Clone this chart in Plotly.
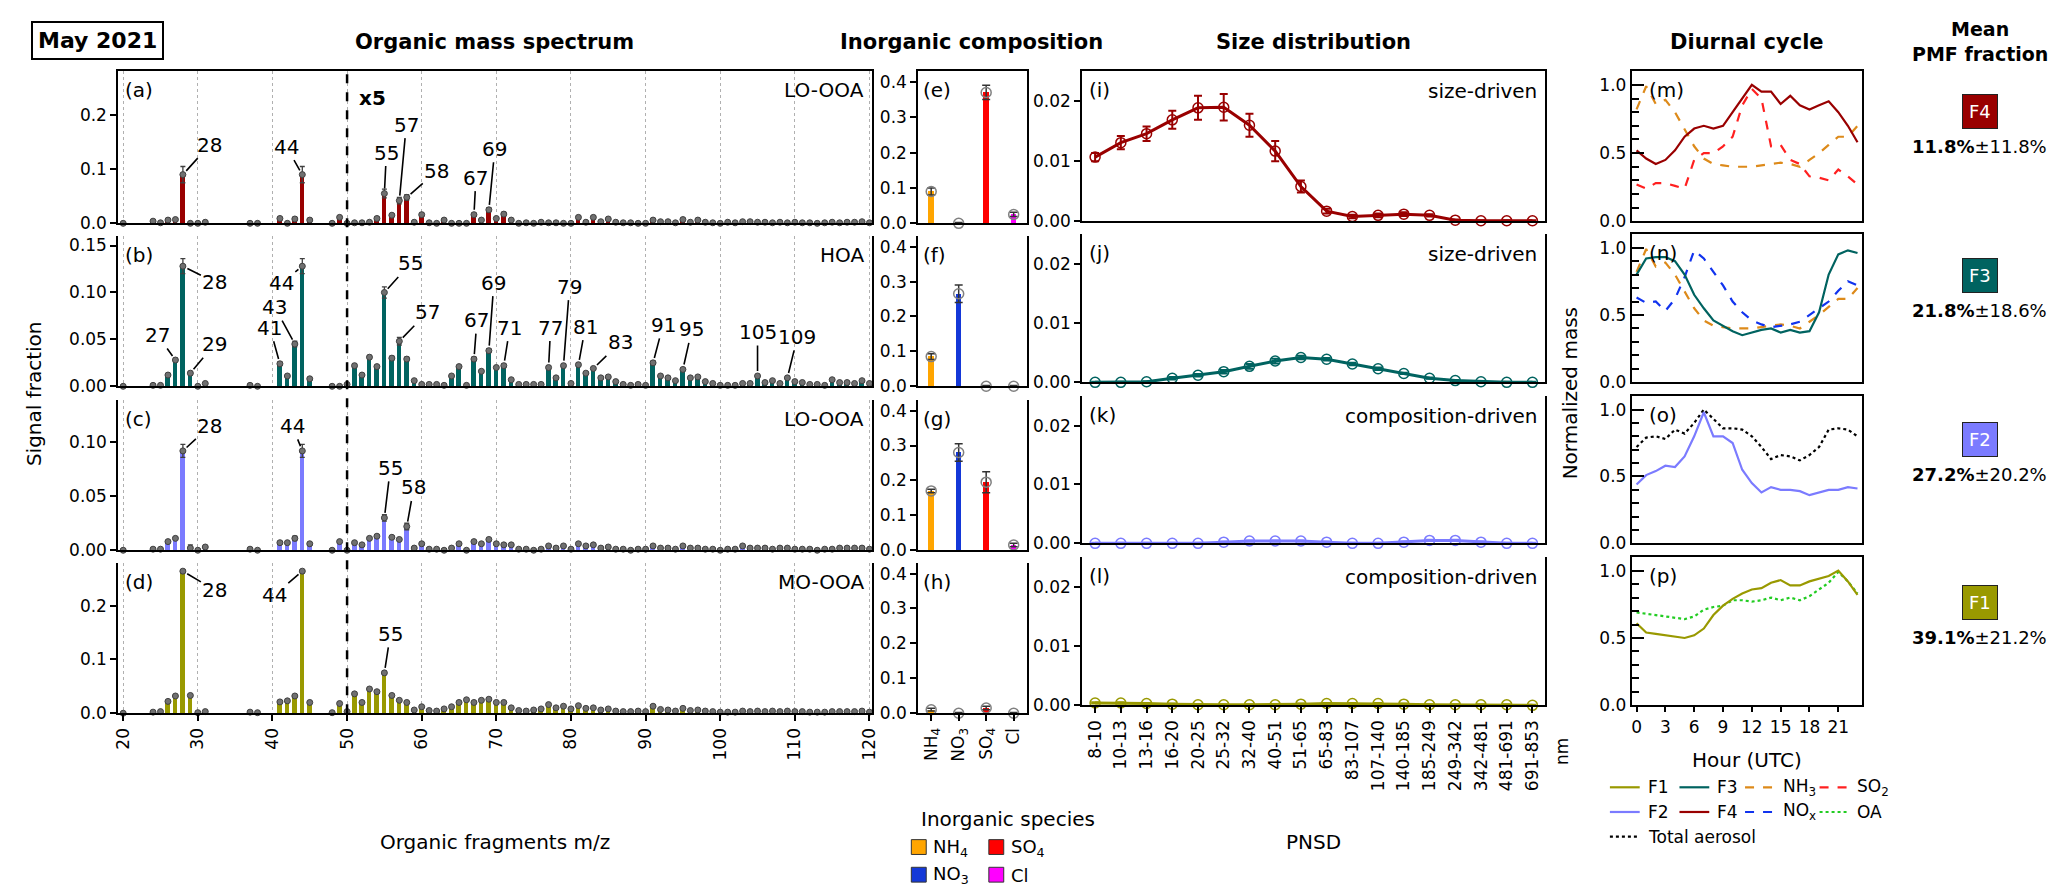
import plotly.graph_objects as go

W, H = 2067, 893
FONT = 'DejaVu Sans'

# ---------------- data ----------------
MZ = [20, 24, 25, 26, 27, 28, 29, 30, 31, 37, 38, 41, 42, 43, 44, 45, 48, 49,
      50, 51, 52, 53, 54, 55, 56, 57, 58, 59,
      60, 61, 62, 63, 64, 65, 66, 67, 68, 69,
      70, 71, 72, 73, 74, 75, 76, 77, 78, 79,
      80, 81, 82, 83, 84, 85, 86, 87, 88, 89,
      90, 91, 92, 93, 94, 95, 96, 97, 98, 99,
      100, 101, 102, 103, 104, 105, 106, 107, 108, 109,
      110, 111, 112, 113, 114, 115, 116, 117, 118, 119, 120]

# displayed signal fraction (m/z >= 50 already multiplied by 5)
SPEC_F4 = [0.0, 0.004, 0.001, 0.006, 0.007, 0.090, 0.0, 0.0, 0.002,
           0.0, 0.0, 0.009, 0.0, 0.008, 0.090, 0.006, 0.0, 0.011,
           0.0, 0.001, 0.001, 0.002, 0.009, 0.055, 0.015, 0.042, 0.048, 0.002,
           0.016, 0.001, 0.0, 0.006, 0.0, 0.0, 0.0, 0.016, 0.006, 0.025,
           0.009, 0.017, 0.006, 0.0, 0.001, 0.0, 0.002, 0.001, 0.001, 0.0,
           0.0, 0.011, 0.002, 0.011, 0.003, 0.008, 0.002, 0.001, 0.001, 0.0,
           0.0, 0.006, 0.003, 0.003, 0.001, 0.007, 0.002, 0.006, 0.002, 0.001,
           0.0, 0.002, 0.001, 0.003, 0.003, 0.002, 0.002, 0.001, 0.002, 0.001,
           0.002, 0.001, 0.001, 0.0, 0.001, 0.002, 0.001, 0.002, 0.002, 0.003, 0.001]
ERR_F4 = [0.001, 0.002, 0.001, 0.002, 0.002, 0.015, 0.001, 0.001, 0.001,
          0.001, 0.001, 0.002, 0.001, 0.003, 0.015, 0.002, 0.001, 0.002,
          0.001, 0.001, 0.001, 0.001, 0.003, 0.008, 0.003, 0.006, 0.005, 0.001,
          0.003, 0.001, 0.001, 0.002, 0.001, 0.001, 0.001, 0.003, 0.002, 0.004,
          0.002, 0.003, 0.002, 0.001, 0.001, 0.001, 0.001, 0.001, 0.001, 0.001,
          0.001, 0.003, 0.001, 0.003, 0.001, 0.002, 0.001, 0.001, 0.001, 0.001,
          0.001, 0.002, 0.001, 0.001, 0.001, 0.002, 0.001, 0.002, 0.001, 0.001,
          0.001, 0.001, 0.001, 0.001, 0.001, 0.001, 0.001, 0.001, 0.001, 0.001,
          0.001, 0.001, 0.001, 0.001, 0.001, 0.001, 0.001, 0.001, 0.001, 0.001, 0.001]

SPEC_F3 = [0.0, 0.001, 0.001, 0.012, 0.028, 0.128, 0.014, 0.0, 0.003,
           0.001, 0.0, 0.024, 0.011, 0.045, 0.128, 0.008, 0.0, 0.0,
           0.002, 0.022, 0.012, 0.031, 0.021, 0.100, 0.030, 0.048, 0.029, 0.006,
           0.002, 0.002, 0.002, 0.001, 0.011, 0.021, 0.001, 0.029, 0.016, 0.038,
           0.020, 0.022, 0.007, 0.002, 0.002, 0.002, 0.002, 0.020, 0.009, 0.022,
           0.003, 0.023, 0.014, 0.019, 0.009, 0.010, 0.005, 0.002, 0.001, 0.002,
           0.001, 0.025, 0.011, 0.009, 0.006, 0.018, 0.009, 0.010, 0.005, 0.003,
           0.001, 0.001, 0.001, 0.003, 0.003, 0.011, 0.004, 0.006, 0.003, 0.009,
           0.005, 0.004, 0.002, 0.002, 0.001, 0.007, 0.004, 0.004, 0.003, 0.006, 0.003]
ERR_F3 = [0.001, 0.001, 0.001, 0.001, 0.002, 0.008, 0.002, 0.001, 0.001,
          0.001, 0.001, 0.002, 0.001, 0.003, 0.008, 0.001, 0.001, 0.001,
          0.001, 0.002, 0.001, 0.002, 0.001, 0.006, 0.002, 0.004, 0.002, 0.001,
          0.001, 0.001, 0.001, 0.001, 0.001, 0.001, 0.001, 0.002, 0.001, 0.002,
          0.001, 0.002, 0.001, 0.001, 0.001, 0.001, 0.001, 0.002, 0.001, 0.002,
          0.001, 0.002, 0.001, 0.001, 0.001, 0.001, 0.001, 0.001, 0.001, 0.001,
          0.001, 0.002, 0.001, 0.001, 0.001, 0.001, 0.001, 0.001, 0.001, 0.001,
          0.001, 0.001, 0.001, 0.001, 0.001, 0.001, 0.001, 0.001, 0.001, 0.001,
          0.001, 0.001, 0.001, 0.001, 0.001, 0.001, 0.001, 0.001, 0.001, 0.001, 0.001]

SPEC_F2 = [0.0, 0.001, 0.001, 0.008, 0.011, 0.092, 0.002, 0.0, 0.003,
           0.001, 0.0, 0.007, 0.007, 0.011, 0.092, 0.006, 0.0, 0.008,
           0.0, 0.007, 0.005, 0.011, 0.013, 0.030, 0.012, 0.010, 0.022, 0.002,
           0.006, 0.001, 0.001, 0.0, 0.002, 0.006, 0.0, 0.008, 0.006, 0.010,
           0.006, 0.005, 0.005, 0.001, 0.001, 0.0, 0.001, 0.004, 0.002, 0.004,
           0.001, 0.006, 0.004, 0.005, 0.002, 0.003, 0.001, 0.001, 0.0, 0.001,
           0.001, 0.004, 0.002, 0.002, 0.001, 0.004, 0.002, 0.002, 0.001, 0.001,
           0.0, 0.001, 0.001, 0.004, 0.002, 0.002, 0.002, 0.001, 0.002, 0.002,
           0.001, 0.001, 0.001, 0.0, 0.001, 0.001, 0.002, 0.002, 0.002, 0.002, 0.001]
ERR_F2 = [0.001, 0.001, 0.001, 0.001, 0.001, 0.006, 0.003, 0.001, 0.001,
          0.001, 0.001, 0.001, 0.001, 0.002, 0.006, 0.001, 0.001, 0.001,
          0.001, 0.001, 0.001, 0.001, 0.001, 0.003, 0.001, 0.001, 0.003, 0.001,
          0.001, 0.001, 0.001, 0.001, 0.001, 0.001, 0.001, 0.001, 0.001, 0.001,
          0.001, 0.001, 0.001, 0.001, 0.001, 0.001, 0.001, 0.001, 0.001, 0.001,
          0.001, 0.001, 0.001, 0.001, 0.001, 0.001, 0.001, 0.001, 0.001, 0.001,
          0.001, 0.001, 0.001, 0.001, 0.001, 0.001, 0.001, 0.001, 0.001, 0.001,
          0.001, 0.001, 0.001, 0.001, 0.001, 0.001, 0.001, 0.001, 0.001, 0.001,
          0.001, 0.001, 0.001, 0.001, 0.001, 0.001, 0.001, 0.001, 0.001, 0.001, 0.001]

SPEC_F1 = [0.0, 0.002, 0.003, 0.022, 0.032, 0.264, 0.033, 0.001, 0.003,
           0.002, 0.001, 0.021, 0.023, 0.032, 0.264, 0.020, 0.001, 0.018,
           0.003, 0.036, 0.020, 0.045, 0.040, 0.075, 0.033, 0.024, 0.020, 0.006,
           0.012, 0.005, 0.004, 0.008, 0.012, 0.020, 0.025, 0.020, 0.024, 0.026,
           0.020, 0.020, 0.010, 0.005, 0.004, 0.006, 0.008, 0.016, 0.010, 0.013,
           0.008, 0.014, 0.009, 0.010, 0.006, 0.008, 0.004, 0.003, 0.003, 0.004,
           0.003, 0.013, 0.007, 0.006, 0.004, 0.009, 0.005, 0.006, 0.004, 0.003,
           0.002, 0.002, 0.002, 0.004, 0.003, 0.004, 0.003, 0.004, 0.003, 0.004,
           0.003, 0.003, 0.002, 0.002, 0.002, 0.003, 0.003, 0.003, 0.003, 0.004, 0.002]
ERR_F1 = [0.001, 0.001, 0.001, 0.002, 0.002, 0.003, 0.002, 0.001, 0.001,
          0.001, 0.001, 0.002, 0.002, 0.002, 0.003, 0.002, 0.001, 0.002,
          0.001, 0.002, 0.001, 0.002, 0.002, 0.003, 0.002, 0.002, 0.001, 0.001,
          0.001, 0.001, 0.001, 0.001, 0.001, 0.001, 0.002, 0.001, 0.002, 0.002,
          0.001, 0.001, 0.001, 0.001, 0.001, 0.001, 0.001, 0.001, 0.001, 0.001,
          0.001, 0.001, 0.001, 0.001, 0.001, 0.001, 0.001, 0.001, 0.001, 0.001,
          0.001, 0.002, 0.001, 0.001, 0.001, 0.001, 0.001, 0.001, 0.001, 0.001,
          0.001, 0.001, 0.001, 0.001, 0.001, 0.001, 0.001, 0.001, 0.001, 0.001,
          0.001, 0.001, 0.001, 0.001, 0.001, 0.001, 0.001, 0.001, 0.001, 0.001, 0.001]

LABELS_F4 = [28, 44, 55, 57, 58, 67, 69]
LABELS_F3 = [27, 28, 29, 41, 43, 44, 55, 57, 67, 69, 71, 77, 79, 81, 83, 91, 95, 105, 109]
LABELS_F2 = [28, 44, 55, 58]
LABELS_F1 = [28, 44, 55]

INORG_SPECIES = ['NH<sub>4</sub>', 'NO<sub>3</sub>', 'SO<sub>4</sub>', 'Cl']
INORG_F4 = [0.09, 0.0, 0.37, 0.025]
INORG_F4_ERR = [0.01, 0.002, 0.02, 0.006]
INORG_F3 = [0.085, 0.265, 0.0, 0.0]
INORG_F3_ERR = [0.008, 0.025, 0.002, 0.002]
INORG_F2 = [0.17, 0.28, 0.195, 0.015]
INORG_F2_ERR = [0.005, 0.025, 0.03, 0.005]
INORG_F1 = [0.01, 0.0, 0.015, 0.0]
INORG_F1_ERR = [0.004, 0.002, 0.005, 0.002]

SIZE_BINS = ['8-10', '10-13', '13-16', '16-20', '20-25', '25-32', '32-40', '40-51', '51-65',
             '65-83', '83-107', '107-140', '140-185', '185-249', '249-342', '342-481',
             '481-691', '691-853']
PNSD_F4 = [0.0107, 0.0131, 0.0146, 0.0169, 0.0189, 0.0190, 0.0160, 0.0117, 0.0058,
           0.0017, 0.0008, 0.0010, 0.0012, 0.0010, 0.0002, 0.0001, 0.0001, 0.0001]
PNSD_F4_ERR = [0.0007, 0.0011, 0.0012, 0.0015, 0.0020, 0.0022, 0.0019, 0.0017, 0.0010,
               0.0004, 0.0003, 0.0003, 0.0003, 0.0002, 0.0001, 0.0001, 0.0001, 0.0001]
PNSD_F3 = [0.0, 0.0, 0.0001, 0.0007, 0.0012, 0.0018, 0.0027, 0.0036, 0.0042,
           0.0039, 0.0031, 0.0023, 0.0015, 0.0007, 0.0003, 0.0001, 0.0, 0.0]
PNSD_F3_ERR = [0.0001, 0.0001, 0.0001, 0.0002, 0.0002, 0.0003, 0.0004, 0.0004, 0.0003,
               0.0002, 0.0002, 0.0002, 0.0001, 0.0001, 0.0001, 0.0001, 0.0001, 0.0001]
PNSD_F2 = [0.0, 0.0, 0.0, 0.0, 0.0, 0.0002, 0.0004, 0.0004, 0.0004,
           0.0002, 0.0, 0.0, 0.0002, 0.0005, 0.0005, 0.0002, 0.0, 0.0]
PNSD_F2_ERR = [0.0001, 0.0001, 0.0001, 0.0001, 0.0001, 0.0001, 0.0001, 0.0001, 0.0001,
               0.0001, 0.0001, 0.0001, 0.0001, 0.0001, 0.0001, 0.0001, 0.0001, 0.0001]
PNSD_F1 = [0.0004, 0.0004, 0.0003, 0.0002, 0.0001, 0.0001, 0.0001, 0.0001, 0.0002,
           0.0003, 0.0003, 0.0003, 0.0002, 0.0001, 0.0001, 0.0001, 0.0001, 0.0]
PNSD_F1_ERR = [0.0001, 0.0001, 0.0001, 0.0001, 0.0001, 0.0001, 0.0001, 0.0001, 0.0001,
               0.0001, 0.0001, 0.0001, 0.0001, 0.0001, 0.0001, 0.0001, 0.0001, 0.0001]

HOURS = [0, 1, 2, 3, 4, 5, 6, 7, 8, 9, 10, 11, 12, 13, 14, 15, 16, 17, 18, 19, 20, 21, 22, 23]
DIUR_F4 = [0.52, 0.46, 0.42, 0.45, 0.52, 0.62, 0.68, 0.70, 0.68, 0.70, 0.80, 0.90,
           1.00, 0.95, 0.95, 0.86, 0.92, 0.85, 0.82, 0.85, 0.88, 0.80, 0.70, 0.58]
DIUR_F3 = [0.80, 0.92, 0.93, 0.93, 0.90, 0.80, 0.65, 0.55, 0.46, 0.42, 0.38, 0.35,
           0.37, 0.39, 0.40, 0.37, 0.39, 0.37, 0.38, 0.52, 0.80, 0.95, 0.98, 0.96]
DIUR_F2 = [0.44, 0.51, 0.54, 0.58, 0.57, 0.65, 0.80, 0.98, 0.80, 0.80, 0.75, 0.55,
           0.45, 0.38, 0.42, 0.40, 0.40, 0.39, 0.36, 0.38, 0.40, 0.40, 0.42, 0.41]
DIUR_F1 = [0.61, 0.54, 0.53, 0.52, 0.51, 0.50, 0.52, 0.57, 0.67, 0.74, 0.79, 0.83,
           0.86, 0.87, 0.91, 0.93, 0.89, 0.89, 0.92, 0.94, 0.96, 1.00, 0.92, 0.82]
DIUR_NH3 = [0.82, 0.99, 0.86, 0.89, 0.80, 0.68, 0.55, 0.46, 0.42, 0.41, 0.40, 0.40,
            0.40, 0.41, 0.42, 0.43, 0.42, 0.40, 0.45, 0.50, 0.56, 0.62, 0.62, 0.70]
DIUR_SO2 = [0.27, 0.24, 0.28, 0.28, 0.26, 0.24, 0.45, 0.50, 0.50, 0.55, 0.62, 0.85,
            0.97, 0.90, 0.55, 0.56, 0.45, 0.42, 0.33, 0.32, 0.30, 0.38, 0.33, 0.27]
DIUR_NOX = [0.63, 0.59, 0.60, 0.53, 0.62, 0.78, 0.98, 0.92, 0.82, 0.72, 0.60, 0.52,
            0.46, 0.43, 0.41, 0.42, 0.43, 0.45, 0.50, 0.55, 0.60, 0.68, 0.75, 0.72]
DIUR_TOTAL = [0.72, 0.79, 0.80, 0.78, 0.85, 0.82, 0.90, 1.00, 0.93, 0.86, 0.86, 0.85,
              0.80, 0.72, 0.63, 0.66, 0.65, 0.62, 0.66, 0.72, 0.85, 0.86, 0.85, 0.80]
DIUR_OA = [0.69, 0.68, 0.67, 0.66, 0.65, 0.64, 0.66, 0.71, 0.73, 0.74, 0.78, 0.78,
           0.77, 0.78, 0.80, 0.78, 0.80, 0.78, 0.81, 0.86, 0.91, 0.99, 0.92, 0.83]

FACTORS = ['F4', 'F3', 'F2', 'F1']
FACTOR_TYPE = ['LO-OOA', 'HOA', 'LO-OOA', 'MO-OOA']
SIZE_TYPE = ['size-driven', 'size-driven', 'composition-driven', 'composition-driven']
PMF_MEAN = [11.8, 21.8, 27.2, 39.1]
PMF_SD = [11.8, 18.6, 20.2, 21.2]

# ---------------- style ----------------
COL = {'F4': '#990000', 'F3': '#006360', 'F2': '#7b7bff', 'F1': '#999900'}
INORG_COL = ['#ffa500', '#1438d8', '#ff0000', '#ff00ff']
C_NH3, C_SO2, C_NOX, C_OA = '#dd8a1a', '#ff2020', '#1133ee', '#22cc22'

MASS_X = (105, 863)
INORG_X = (910, 1019)
SIZE_X = (1075, 1541)
DIUR_X = (1628, 1860)
MASS_ROWS = [(63, 217), (230, 382), (396, 548), (561, 713)]
SIDE_ROWS = [(63, 215), (228, 378), (392, 541), (555, 705)]

MASS_YRANGE = [0.281, 0.160, 0.139, 0.279]
MASS_YTICKS = [([0, 0.1, 0.2], ['0.0', '0.1', '0.2']),
               ([0, 0.05, 0.10, 0.15], ['0.00', '0.05', '0.10', '0.15']),
               ([0, 0.05, 0.10], ['0.00', '0.05', '0.10']),
               ([0, 0.1, 0.2], ['0.0', '0.1', '0.2'])]

# label text offsets (pixels) relative to marker
LABEL_OFFSETS = [
    {28: (27, -30), 44: (-16, -28), 55: (2, -41), 57: (7, -76), 58: (30, -26), 67: (2, -37), 69: (6, -61)},
    {27: (-18, -25), 28: (32, 16), 29: (24, -29), 41: (-10, -36), 43: (-20, -37), 44: (-21, 17),
     55: (26, -29), 57: (28, -29), 67: (3, -39), 69: (5, -68), 71: (6, -38), 77: (2, -40),
     79: (6, -79), 81: (7, -38), 83: (27, -26), 91: (10, -38), 95: (9, -40), 105: (0, -44), 109: (10, -41)},
    {28: (27, -25), 44: (-10, -25), 55: (6, -50), 58: (7, -39)},
    {28: (32, 19), 44: (-28, 24), 55: (6, -39)},
]

SPECS = [SPEC_F4, SPEC_F3, SPEC_F2, SPEC_F1]
ERRS = [ERR_F4, ERR_F3, ERR_F2, ERR_F1]
LABELS = [LABELS_F4, LABELS_F3, LABELS_F2, LABELS_F1]
INORGS = [(INORG_F4, INORG_F4_ERR), (INORG_F3, INORG_F3_ERR), (INORG_F2, INORG_F2_ERR), (INORG_F1, INORG_F1_ERR)]
PNSDS = [(PNSD_F4, PNSD_F4_ERR), (PNSD_F3, PNSD_F3_ERR), (PNSD_F2, PNSD_F2_ERR), (PNSD_F1, PNSD_F1_ERR)]
DIURS = [
    [(DIUR_NH3, C_NH3, 'dash'), (DIUR_SO2, C_SO2, 'dash'), (DIUR_F4, COL['F4'], 'solid')],
    [(DIUR_NH3, C_NH3, 'dash'), (DIUR_NOX, C_NOX, 'dash'), (DIUR_F3, COL['F3'], 'solid')],
    [(DIUR_TOTAL, 'black', 'dot'), (DIUR_F2, COL['F2'], 'solid')],
    [(DIUR_OA, C_OA, 'dot'), (DIUR_F1, COL['F1'], 'solid')],
]


def px(x):
    return x / W


def py(y):
    return 1 - y / H


def suffix(n):
    return '' if n == 1 else str(n)


fig = go.Figure()
layout = {}
annotations = []
shapes = []


def text(x, y, s, size=20, xanchor='center', yanchor='middle', angle=0, color='black', **kw):
    annotations.append(dict(x=px(x), y=py(y), xref='paper', yref='paper', text=s, showarrow=False,
                            xanchor=xanchor, yanchor=yanchor, textangle=angle,
                            font=dict(family=FONT, size=size, color=color), **kw))


AX_LINE = dict(showline=True, linecolor='black', linewidth=2, zeroline=False, showgrid=False,
               tickfont=dict(family=FONT, size=17, color='black'), tickcolor='black')

idx = {m: i for i, m in enumerate(MZ)}

for r in range(4):
    f = FACTORS[r]
    color = COL[f]
    bottom = r == 3

    # ---- organic mass spectrum ----
    n = r + 1
    xa, ya = 'x' + suffix(n), 'y' + suffix(n)
    fig.add_trace(go.Bar(x=MZ, y=SPECS[r], width=0.62, marker=dict(color=color, line_width=0),
                         xaxis=xa, yaxis=ya, showlegend=False))
    fig.add_trace(go.Scatter(x=MZ, y=SPECS[r], mode='markers', cliponaxis=False,
                             marker=dict(size=6, color='#707070', line=dict(color='#404040', width=1)),
                             error_y=dict(type='data', array=ERRS[r], color='#404040', thickness=1.3, width=2.5),
                             xaxis=xa, yaxis=ya, showlegend=False))
    y0, y1 = MASS_ROWS[r]
    layout['xaxis' + suffix(n)] = dict(AX_LINE, domain=[px(MASS_X[0]), px(MASS_X[1])], anchor=ya,
                                       range=[19.35, 120.28], tick0=20, dtick=10, showgrid=True,
                                       gridcolor='#b0b0b0', griddash='dot', gridwidth=1, mirror=(r == 0),
                                       ticks='outside' if bottom else '', ticklen=6, tickwidth=2,
                                       showticklabels=bottom, tickangle=-90)
    tv, tt = MASS_YTICKS[r]
    layout['yaxis' + suffix(n)] = dict(AX_LINE, domain=[py(y1), py(y0)], anchor=xa,
                                       range=[0, MASS_YRANGE[r]], tickvals=tv, ticktext=tt,
                                       ticks='outside', ticklen=6, tickwidth=2, mirror=True)
    for m in LABELS[r]:
        dx, dy = LABEL_OFFSETS[r][m]
        annotations.append(dict(x=m, y=SPECS[r][idx[m]], xref=xa, yref=ya, text=str(m),
                                showarrow=True, arrowhead=0, arrowwidth=1.6, arrowcolor='black',
                                ax=dx, ay=dy, standoff=5,
                                font=dict(family=FONT, size=20, color='black')))
    text(MASS_X[0] + 5, y0 + 19, '(%s)' % 'abcd'[r], xanchor='left')
    text(MASS_X[1] - 6, y0 + 19, FACTOR_TYPE[r], xanchor='right')

    # ---- inorganic composition ----
    n = 4 + r + 1
    xa, ya = 'x' + suffix(n), 'y' + suffix(n)
    vals, errs = INORGS[r]
    fig.add_trace(go.Bar(x=INORG_SPECIES, y=vals, width=0.2, marker=dict(color=INORG_COL, line_width=0),
                         xaxis=xa, yaxis=ya, showlegend=False))
    fig.add_trace(go.Scatter(x=INORG_SPECIES, y=vals, mode='markers', cliponaxis=False,
                             marker=dict(symbol='circle-open', size=10, color='#808080', line=dict(width=1.5)),
                             error_y=dict(type='data', array=errs, color='#333333', thickness=1.5, width=4),
                             xaxis=xa, yaxis=ya, showlegend=False))
    layout['xaxis' + suffix(n)] = dict(AX_LINE, domain=[px(INORG_X[0]), px(INORG_X[1])], anchor=ya,
                                       type='category', range=[-0.47, 3.47], mirror=(r == 0),
                                       ticks='outside' if bottom else '', ticklen=6, tickwidth=2,
                                       showticklabels=bottom, tickangle=-90)
    layout['yaxis' + suffix(n)] = dict(AX_LINE, domain=[py(y1), py(y0)], anchor=xa, range=[0, 0.43],
                                       tickvals=[0, 0.1, 0.2, 0.3, 0.4],
                                       ticktext=['0.0', '0.1', '0.2', '0.3', '0.4'],
                                       ticks='outside', ticklen=6, tickwidth=2, mirror=True)
    text(INORG_X[0] + 3, y0 + 19, '(%s)' % 'efgh'[r], xanchor='left')

    # ---- size distribution ----
    n = 8 + r + 1
    xa, ya = 'x' + suffix(n), 'y' + suffix(n)
    vals, errs = PNSDS[r]
    s0, s1 = SIDE_ROWS[r]
    fig.add_trace(go.Scatter(x=SIZE_BINS, y=vals, mode='lines+markers', cliponaxis=False,
                             line=dict(color=color, width=3),
                             marker=dict(symbol='circle-open', size=10, color=color, line=dict(width=1.5)),
                             error_y=dict(type='data', array=errs, color=color, thickness=2, width=4),
                             xaxis=xa, yaxis=ya, showlegend=False))
    layout['xaxis' + suffix(n)] = dict(AX_LINE, domain=[px(SIZE_X[0]), px(SIZE_X[1])], anchor=ya,
                                       type='category', range=[-0.5, 17.5], mirror=(r == 0),
                                       ticks='outside' if bottom else '', ticklen=6, tickwidth=2,
                                       showticklabels=bottom, tickangle=-90)
    layout['yaxis' + suffix(n)] = dict(AX_LINE, domain=[py(s1), py(s0)], anchor=xa, range=[0, 0.025],
                                       tickvals=[0, 0.01, 0.02], ticktext=['0.00', '0.01', '0.02'],
                                       ticks='outside', ticklen=6, tickwidth=2, mirror=True)
    text(SIZE_X[0] + 5, s0 + 19, '(%s)' % 'ijkl'[r], xanchor='left')
    text(SIZE_X[1] - 6, s0 + 20, SIZE_TYPE[r], xanchor='right')

    # ---- diurnal cycle ----
    n = 12 + r + 1
    xa, ya = 'x' + suffix(n), 'y' + suffix(n)
    for series, c, dash in DIURS[r]:
        fig.add_trace(go.Scatter(x=HOURS, y=series, mode='lines', line=dict(color=c, width=2.2, dash=dash),
                                 xaxis=xa, yaxis=ya, showlegend=False))
    layout['xaxis' + suffix(n)] = dict(AX_LINE, domain=[px(DIUR_X[0]), px(DIUR_X[1])], anchor=ya,
                                       range=[-0.5, 23.5], tickvals=[0, 3, 6, 9, 12, 15, 18, 21],
                                       mirror=True, ticks='outside' if bottom else '', ticklen=5,
                                       tickwidth=2, showticklabels=bottom)
    layout['yaxis' + suffix(n)] = dict(AX_LINE, domain=[py(s1), py(s0)], anchor=xa, range=[0, 1.1],
                                       tick0=0, dtick=0.5, tickformat='.1f', ticks='inside', ticklen=12,
                                       tickwidth=2, mirror=True,
                                       minor=dict(tick0=0, dtick=0.1, ticks='inside', ticklen=7,
                                                  tickwidth=1.5, tickcolor='black'))
    text(DIUR_X[0] + 15, s0 + 19, '(%s)' % 'mnop'[r], xanchor='left')

    # ---- mean PMF fraction ----
    mid = (y0 + y1) / 2
    text(1978, mid - 36, f, size=18, color='white', bgcolor=color, bordercolor='#222222',
         borderwidth=1, borderpad=6)
    text(1978, mid - 1, '<b>%.1f%%</b>±%.1f%%' % (PMF_MEAN[r], PMF_SD[r]), size=18)

# dashed x5 separator
shapes.append(dict(type='line', xref='x', yref='paper', x0=50, x1=50, y0=py(713), y1=py(63),
                   line=dict(color='black', width=2.5, dash='dash')))
text(345, 90, '<b>x5</b>', xanchor='left')

# titles
text(84, 32, '<b>May 2021</b>', size=22, bordercolor='black', borderwidth=2, borderpad=5)
text(484, 33, '<b>Organic mass spectrum</b>', size=21)
text(964, 33, '<b>Inorganic composition</b>', size=21)
text(1308, 33, '<b>Size distribution</b>', size=21)
text(1744, 33, '<b>Diurnal cycle</b>', size=21)
text(1978, 33, '<b>Mean<br>PMF fraction</b>', size=19)

# axis titles
text(20, 389, 'Signal fraction', angle=-90)
text(1566, 389, 'Normalized mass', angle=-90)
text(484, 843, 'Organic fragments m/z')
text(1308, 843, 'PNSD')
text(1744, 760, 'Hour (UTC)')
text(1558, 752, 'nm', size=17, angle=-90)

# inorganic legend
text(1000, 820, 'Inorganic species')
LEG_POS = [(0, 0), (0, 1), (1, 0), (1, 1)]
for (name, c), (col_i, row_i) in zip(zip(INORG_SPECIES, INORG_COL), LEG_POS):
    lx = 903 + col_i * 78
    ly = 849 + row_i * 28
    shapes.append(dict(type='rect', xref='paper', yref='paper', x0=px(lx), x1=px(lx + 15),
                       y0=py(ly + 7), y1=py(ly - 8), fillcolor=c, line=dict(color='#333333', width=1)))
    text(lx + 20, ly, name, size=18, xanchor='left')

# diurnal legend
DIUR_LEGEND = [('F1', COL['F1'], 'solid'), ('F3', COL['F3'], 'solid'), ('NH<sub>3</sub>', C_NH3, 'dash'),
               ('SO<sub>2</sub>', C_SO2, 'dash'), ('F2', COL['F2'], 'solid'), ('F4', COL['F4'], 'solid'),
               ('NO<sub>x</sub>', C_NOX, 'dash'), ('OA', C_OA, 'dot'), ('Total aerosol', 'black', 'dot')]
leg_cols = [1606, 1676, 1742, 1817]
for i, (name, c, dash) in enumerate(DIUR_LEGEND):
    lx = leg_cols[i % 4]
    ly = 788 + (i // 4) * 25
    shapes.append(dict(type='line', xref='paper', yref='paper', x0=px(lx), x1=px(lx + 30),
                       y0=py(ly), y1=py(ly), line=dict(color=c, width=2.2, dash=dash)))
    text(lx + 36, ly, name, size=17, xanchor='left')

fig.update_layout(layout)
fig.update_layout(width=W, height=H, margin=dict(l=0, r=0, t=0, b=0),
                  paper_bgcolor='white', plot_bgcolor='white', showlegend=False,
                  bargap=0, font=dict(family=FONT, color='black'),
                  annotations=annotations, shapes=shapes)

fig.write_html('out.html')
